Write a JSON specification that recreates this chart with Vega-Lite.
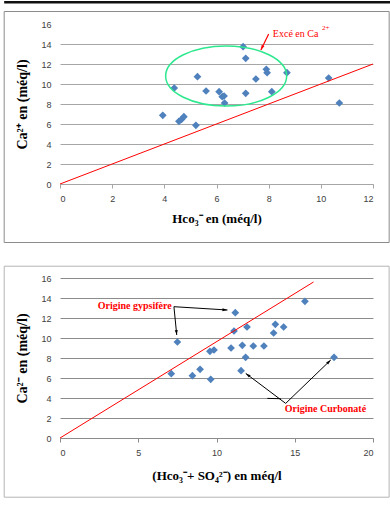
{
  "$schema": "https://vega.github.io/schema/vega-lite/v6.json",
  "background": "white",
  "padding": {"left": 3, "top": 0, "right": 0, "bottom": 0},
  "spacing": 22,
  "config": {
    "view": {"stroke": null},
    "axis": {
      "labelFont": "Liberation Sans",
      "labelFontSize": 9,
      "labelColor": "#404040",
      "titleFont": "Liberation Serif",
      "titleFontSize": 13,
      "titleFontWeight": "bold",
      "titleColor": "#000000"
    }
  },
  "datasets": {
    "one": [{}],
    "top": [
      {"hco3": 3.94, "ca": 6.87}, {"hco3": 4.38, "ca": 9.6}, {"hco3": 4.56, "ca": 6.27},
      {"hco3": 4.66, "ca": 6.47}, {"hco3": 4.75, "ca": 6.73}, {"hco3": 5.21, "ca": 5.87},
      {"hco3": 5.27, "ca": 10.73}, {"hco3": 5.6, "ca": 9.3}, {"hco3": 6.1, "ca": 9.23},
      {"hco3": 6.22, "ca": 8.73}, {"hco3": 6.29, "ca": 8.8}, {"hco3": 6.31, "ca": 8.1},
      {"hco3": 7.02, "ca": 13.73}, {"hco3": 7.12, "ca": 12.57}, {"hco3": 7.12, "ca": 9.07},
      {"hco3": 7.51, "ca": 10.5}, {"hco3": 7.91, "ca": 11.47}, {"hco3": 7.94, "ca": 11.13},
      {"hco3": 8.12, "ca": 9.23}, {"hco3": 8.7, "ca": 11.13}, {"hco3": 10.3, "ca": 10.6},
      {"hco3": 10.71, "ca": 8.1}
    ],
    "bottom": [
      {"sum": 7.11, "ca": 6.43}, {"sum": 7.5, "ca": 9.6}, {"sum": 8.46, "ca": 6.23},
      {"sum": 8.95, "ca": 6.87}, {"sum": 9.58, "ca": 8.67}, {"sum": 9.63, "ca": 5.87},
      {"sum": 9.84, "ca": 8.8}, {"sum": 10.93, "ca": 9.0}, {"sum": 11.12, "ca": 10.7},
      {"sum": 11.2, "ca": 12.53}, {"sum": 11.57, "ca": 6.73}, {"sum": 11.65, "ca": 9.27},
      {"sum": 11.86, "ca": 8.07}, {"sum": 11.95, "ca": 11.1}, {"sum": 12.35, "ca": 9.2},
      {"sum": 13.03, "ca": 9.2}, {"sum": 13.65, "ca": 10.5}, {"sum": 13.76, "ca": 11.37},
      {"sum": 14.29, "ca": 11.1}, {"sum": 15.65, "ca": 13.67}, {"sum": 17.51, "ca": 8.07}
    ],
    "line1": [{"x": 0, "y": 0}, {"x": 12, "y": 12}],
    "line2": [{"x": 0, "y": 0}, {"x": 16.2, "y": 15.6}],
    "arrowTop": [{"x": 8.0, "y": 15.0, "x2": 7.7, "y2": 13.4}],
    "arrowsBottom": [
      {"x": 7.28, "y": 13.13, "x2": 10.7, "y2": 12.8},
      {"x": 7.28, "y": 13.13, "x2": 7.46, "y2": 10.3},
      {"x": 14.42, "y": 3.46, "x2": 11.87, "y2": 6.46},
      {"x": 14.42, "y": 3.46, "x2": 17.3, "y2": 7.8},
      {"x": 13.25, "y": 3.96, "x2": 14.1, "y2": 3.93}
    ]
  },
  "vconcat": [
    {
      "width": 313,
      "height": 160,
      "layer": [
        {
          "data": {"name": "top"},
          "mark": {"type": "point", "shape": "diamond", "filled": true, "size": 60, "color": "#4F81BD", "opacity": 1},
          "encoding": {
            "x": {
              "field": "hco3", "type": "quantitative", "title": "Hco₃⁻ en (méq/l)",
              "scale": {"domain": [0, 12], "nice": false, "zero": false},
              "axis": {
                "values": [0, 2, 4, 6, 8, 10, 12], "format": "d", "grid": false, "domainColor": "#a6a6a6",
                "tickColor": "#a6a6a6", "tickSize": 4, "labelPadding": 6, "titlePadding": 9
              }
            },
            "y": {
              "field": "ca", "type": "quantitative", "title": "Ca²⁺ en (méq/l)",
              "scale": {"domain": [0, 16], "nice": false, "zero": false},
              "axis": {
                "values": [0, 2, 4, 6, 8, 10, 12, 14, 16], "tickCount": 20, "format": "d", "grid": true, "gridColor": "#a6a6a6",
                "gridOpacity": {"condition": {"test": "datum.value === 16", "value": 0}, "value": 1},
                "labelOverlap": false,
                "domain": false, "ticks": false, "labelPadding": 9, "titlePadding": 11, "titleFontSize": 14
              }
            }
          }
        },
        {
          "data": {"name": "one"},
          "mark": {"type": "rect", "fill": null, "stroke": "#8c8c8c", "strokeWidth": 1},
          "encoding": {
            "x": {"datum": -2.14, "type": "quantitative", "title": "Hco₃⁻ en (méq/l)"},
            "x2": {"datum": 12.62},
            "y": {"datum": 17.25, "type": "quantitative", "title": "Ca²⁺ en (méq/l)"},
            "y2": {"datum": -5.85}
          }
        },
        {
          "data": {"name": "one"},
          "mark": {"type": "rect", "fill": "#111111", "stroke": null},
          "encoding": {
            "x": {"datum": -2.14, "type": "quantitative", "title": "Hco₃⁻ en (méq/l)"},
            "x2": {"datum": 12.68},
            "y": {"datum": 18.3, "type": "quantitative", "title": "Ca²⁺ en (méq/l)"},
            "y2": {"datum": 18.05}
          }
        },
        {
          "data": {"name": "line1"},
          "mark": {"type": "line", "color": "#ff0000", "strokeWidth": 1},
          "encoding": {
            "x": {"field": "x", "type": "quantitative", "title": "Hco₃⁻ en (méq/l)"},
            "y": {"field": "y", "type": "quantitative", "title": "Ca²⁺ en (méq/l)"}
          }
        },
        {
          "data": {"name": "one"},
          "mark": {
            "type": "point",
            "shape": "M-2.017,0C-2.017,-0.552,-1.114,-1,0,-1C1.114,-1,2.017,-0.552,2.017,0C2.017,0.552,1.114,1,0,1C-1.114,1,-2.017,0.552,-2.017,0Z",
            "size": 3600, "filled": false, "stroke": "#2ee88f", "strokeWidth": 1.5, "opacity": 1
          },
          "encoding": {
            "x": {"datum": 6.37, "type": "quantitative", "title": "Hco₃⁻ en (méq/l)"},
            "y": {"datum": 10.8, "type": "quantitative", "title": "Ca²⁺ en (méq/l)"}
          }
        },
        {
          "data": {"name": "arrowTop"},
          "mark": {"type": "rule", "color": "#ff0000", "strokeWidth": 1.2},
          "encoding": {
            "x": {"field": "x", "type": "quantitative", "title": "Hco₃⁻ en (méq/l)"},
            "y": {"field": "y", "type": "quantitative", "title": "Ca²⁺ en (méq/l)"},
            "x2": {"field": "x2"},
            "y2": {"field": "y2"}
          }
        },
        {
          "data": {"name": "one"},
          "mark": {"type": "point", "shape": "M0,0L1.5,5L-1.5,5Z", "size": 4, "filled": true, "color": "#ff0000", "angle": 206.6, "opacity": 1},
          "encoding": {
            "x": {"datum": 7.7, "type": "quantitative", "title": "Hco₃⁻ en (méq/l)"},
            "y": {"datum": 13.4, "type": "quantitative", "title": "Ca²⁺ en (méq/l)"}
          }
        },
        {
          "data": {"name": "one"},
          "mark": {"type": "text", "text": "Excé en Ca", "font": "Liberation Serif", "fontSize": 10, "color": "#ff0000", "align": "left", "baseline": "middle"},
          "encoding": {
            "x": {"datum": 8.16, "type": "quantitative", "title": "Hco₃⁻ en (méq/l)"},
            "y": {"datum": 15.03, "type": "quantitative", "title": "Ca²⁺ en (méq/l)"}
          }
        },
        {
          "data": {"name": "one"},
          "mark": {"type": "text", "text": "2+", "font": "Liberation Serif", "fontSize": 7, "color": "#ff0000", "align": "left", "baseline": "middle"},
          "encoding": {
            "x": {"datum": 10.04, "type": "quantitative", "title": "Hco₃⁻ en (méq/l)"},
            "y": {"datum": 15.6, "type": "quantitative", "title": "Ca²⁺ en (méq/l)"}
          }
        }
      ]
    },
    {
      "width": 313,
      "height": 160,
      "layer": [
        {
          "data": {"name": "bottom"},
          "mark": {"type": "point", "shape": "diamond", "filled": true, "size": 60, "color": "#4F81BD", "opacity": 1},
          "encoding": {
            "x": {
              "field": "sum", "type": "quantitative", "title": "(Hco₃⁻+ SO₄²⁻) en méq/l",
              "scale": {"domain": [0, 20], "nice": false, "zero": false},
              "axis": {
                "values": [0, 5, 10, 15, 20], "format": "d", "grid": false, "domainColor": "#8c8c8c",
                "tickColor": "#8c8c8c", "tickSize": 4, "labelPadding": 6, "titlePadding": 12
              }
            },
            "y": {
              "field": "ca", "type": "quantitative", "title": "Ca²⁻ en (méq/l)",
              "scale": {"domain": [0, 16], "nice": false, "zero": false},
              "axis": {
                "values": [0, 2, 4, 6, 8, 10, 12, 14, 16], "tickCount": 20, "format": "d", "grid": true, "gridColor": "#8c8c8c",
                "labelOverlap": false,
                "domain": false, "ticks": false, "labelPadding": 9, "titlePadding": 11, "titleFontSize": 14
              }
            }
          }
        },
        {
          "data": {"name": "one"},
          "mark": {"type": "rect", "fill": null, "stroke": "#b4b4b4", "strokeWidth": 1},
          "encoding": {
            "x": {"datum": -3.565, "type": "quantitative", "title": "(Hco₃⁻+ SO₄²⁻) en méq/l"},
            "x2": {"datum": 21.03},
            "y": {"datum": 17.18, "type": "quantitative", "title": "Ca²⁻ en (méq/l)"},
            "y2": {"datum": -5.92}
          }
        },
        {
          "data": {"name": "line2"},
          "mark": {"type": "line", "color": "#ff0000", "strokeWidth": 1},
          "encoding": {
            "x": {"field": "x", "type": "quantitative", "title": "(Hco₃⁻+ SO₄²⁻) en méq/l"},
            "y": {"field": "y", "type": "quantitative", "title": "Ca²⁻ en (méq/l)"}
          }
        },
        {
          "data": {"name": "arrowsBottom"},
          "mark": {"type": "rule", "color": "#000000", "strokeWidth": 1},
          "encoding": {
            "x": {"field": "x", "type": "quantitative", "title": "(Hco₃⁻+ SO₄²⁻) en méq/l"},
            "y": {"field": "y", "type": "quantitative", "title": "Ca²⁻ en (méq/l)"},
            "x2": {"field": "x2"},
            "y2": {"field": "y2"}
          }
        },
        {
          "data": {"name": "one"},
          "mark": {"type": "point", "shape": "M0,0L1.5,5L-1.5,5Z", "size": 4, "filled": true, "color": "#000000", "angle": 93.5, "opacity": 1},
          "encoding": {
            "x": {"datum": 10.7, "type": "quantitative", "title": "(Hco₃⁻+ SO₄²⁻) en méq/l"},
            "y": {"datum": 12.8, "type": "quantitative", "title": "Ca²⁻ en (méq/l)"}
          }
        },
        {
          "data": {"name": "one"},
          "mark": {"type": "point", "shape": "M0,0L1.5,5L-1.5,5Z", "size": 4, "filled": true, "color": "#000000", "angle": 174.3, "opacity": 1},
          "encoding": {
            "x": {"datum": 7.46, "type": "quantitative", "title": "(Hco₃⁻+ SO₄²⁻) en méq/l"},
            "y": {"datum": 10.3, "type": "quantitative", "title": "Ca²⁻ en (méq/l)"}
          }
        },
        {
          "data": {"name": "one"},
          "mark": {"type": "point", "shape": "M0,0L1.5,5L-1.5,5Z", "size": 4, "filled": true, "color": "#000000", "angle": 306.9, "opacity": 1},
          "encoding": {
            "x": {"datum": 11.87, "type": "quantitative", "title": "(Hco₃⁻+ SO₄²⁻) en méq/l"},
            "y": {"datum": 6.46, "type": "quantitative", "title": "Ca²⁻ en (méq/l)"}
          }
        },
        {
          "data": {"name": "one"},
          "mark": {"type": "point", "shape": "M0,0L1.5,5L-1.5,5Z", "size": 4, "filled": true, "color": "#000000", "angle": 46.1, "opacity": 1},
          "encoding": {
            "x": {"datum": 17.3, "type": "quantitative", "title": "(Hco₃⁻+ SO₄²⁻) en méq/l"},
            "y": {"datum": 7.8, "type": "quantitative", "title": "Ca²⁻ en (méq/l)"}
          }
        },
        {
          "data": {"name": "one"},
          "mark": {"type": "text", "text": "Origine gypsifère", "font": "Liberation Serif", "fontSize": 10, "fontWeight": "bold", "color": "#ff0000", "align": "left", "baseline": "middle"},
          "encoding": {
            "x": {"datum": 2.41, "type": "quantitative", "title": "(Hco₃⁻+ SO₄²⁻) en méq/l"},
            "y": {"datum": 13.23, "type": "quantitative", "title": "Ca²⁻ en (méq/l)"}
          }
        },
        {
          "data": {"name": "one"},
          "mark": {"type": "text", "text": "Origine Curbonaté", "font": "Liberation Serif", "fontSize": 10, "fontWeight": "bold", "color": "#ff0000", "align": "left", "baseline": "middle"},
          "encoding": {
            "x": {"datum": 14.36, "type": "quantitative", "title": "(Hco₃⁻+ SO₄²⁻) en méq/l"},
            "y": {"datum": 2.86, "type": "quantitative", "title": "Ca²⁻ en (méq/l)"}
          }
        }
      ]
    }
  ]
}
